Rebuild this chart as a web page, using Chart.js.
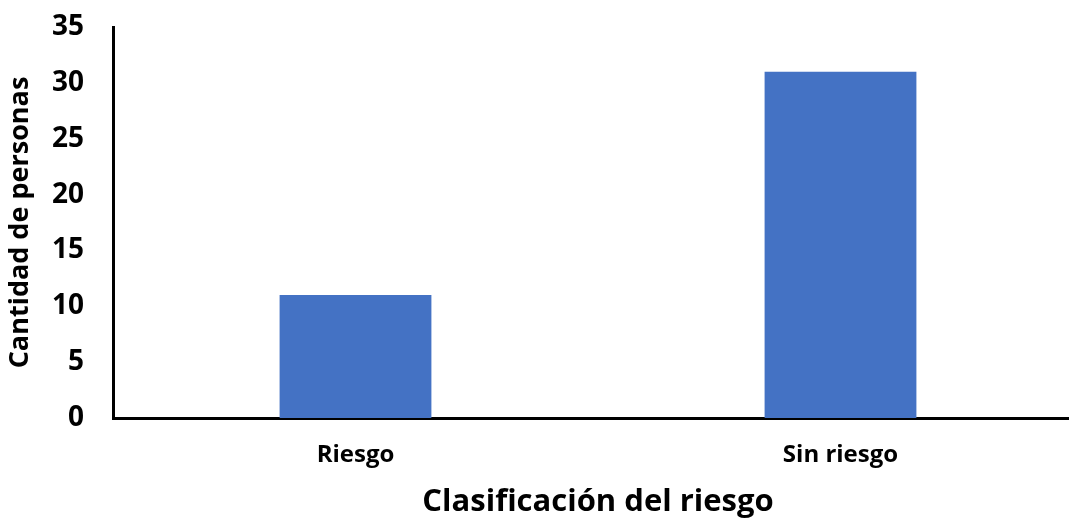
<!DOCTYPE html>
<html><head><meta charset="utf-8">
<script src="https://cdn.jsdelivr.net/npm/chart.js@4"></script>
<style>html,body{margin:0;padding:0;overflow:hidden;background:#fff}#wrap{width:1083px;height:523px}</style>
</head><body><div id="wrap"><canvas id="c" width="1083" height="523"></canvas></div>
<script>
const categories = ["Riesgo", "Sin riesgo"];
const values = [11, 31];
const yTicks = [0, 5, 10, 15, 20, 25, 30, 35];
const xTitle = "Clasificación del riesgo";
const yTitle = "Cantidad de personas";
const FONT = "'Open Sans', sans-serif";
new Chart(document.getElementById('c'), {
  type: 'bar',
  data: { labels: categories, datasets: [{ data: values, backgroundColor: '#4472C4', barPercentage: 0.626, categoryPercentage: 0.5 }] },
  options: {
    responsive: false, animation: false,
    layout: { padding: { top: 27, left: 0, right: 0, bottom: 0 } },
    plugins: { legend: { display: false }, tooltip: { enabled: false } },
    scales: {
      x: {
        grid: { display: false, drawTicks: false },
        border: { display: true, color: '#000', width: 3 },
        ticks: { color: '#000', font: { family: FONT, size: 24, weight: 'bold' }, padding: 23 },
        title: { display: true, text: xTitle, color: '#000', font: { family: FONT, size: 31, weight: 'bold' }, padding: { top: 10, bottom: 2 } },
        afterFit: s => { s.height = 105; s.paddingLeft = 0; s.paddingRight = 0; }
      },
      y: {
        min: 0, max: 35,
        afterBuildTicks: s => { s.ticks = yTicks.map(v => ({ value: v })); },
        grid: { display: false, drawTicks: false },
        border: { display: true, color: '#000', width: 3 },
        ticks: { color: '#000', font: { family: FONT, size: 28, weight: 'bold' }, padding: 29 },
        title: { display: true, text: yTitle, color: '#000', font: { family: FONT, size: 27, weight: 'bold' }, padding: { top: 4 } },
        afterFit: s => { s.width = 113; s.paddingTop = 0; s.paddingBottom = 0; }
      }
    }
  }
});
</script></body></html>
